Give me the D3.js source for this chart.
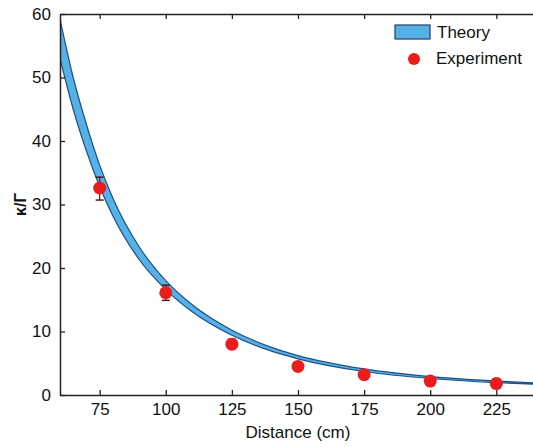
<!DOCTYPE html>
<html>
<head>
<meta charset="utf-8">
<script src="https://cdn.jsdelivr.net/npm/d3@7"></script>
<style>
  body { margin: 0; background: #fff; }
  text { font-family: "Liberation Sans", Arial, sans-serif; fill: #111; }
</style>
</head>
<body>
<div id="chart"></div>
<script>
// theory band (upper / lower edge)
var bandX     = [60, 65, 70, 75, 80, 90, 100, 110, 125, 140, 150, 175, 200, 225, 240];
var bandUpper = [59.2, 50.0, 42.6, 36.2, 31.0, 23.3, 18.0, 14.2, 10.2, 7.5, 6.2, 4.1, 2.9, 2.2, 1.9];
var bandLower = [53.0, 45.0, 38.4, 32.8, 28.2, 21.3, 16.6, 13.1, 9.4, 6.9, 5.7, 3.7, 2.6, 1.95, 1.7];

// experiment points with error bars
var expX   = [75, 100, 125, 150, 175, 200, 225];
var expY   = [32.6, 16.1, 8.0, 4.5, 3.2, 2.2, 1.8];
var expLo  = [30.7, 14.9, 7.3, 4.0, 2.7, 1.9, 1.4];
var expHi  = [34.3, 17.3, 8.8, 5.0, 3.8, 2.6, 2.5];

var xTicks = [75, 100, 125, 150, 175, 200, 225];
var yTicks = [0, 10, 20, 30, 40, 50, 60];

var margin = {left: 60, top: 14, right: -3, bottom: 52};
var width = 533 - margin.left - margin.right,
    height = 447 - margin.top - margin.bottom;

var svg = d3.select("#chart").append("svg")
    .attr("width", 533).attr("height", 447);
var g = svg.append("g")
    .attr("transform", "translate(" + margin.left + "," + margin.top + ")");

var x = d3.scaleLinear().domain([60, 240]).range([0, width]);
var y = d3.scaleLinear().domain([0, 60]).range([height, 0]);

svg.append("clipPath").attr("id", "clip")
    .append("rect").attr("width", width).attr("height", height);

var band = bandX.map(function (d, i) {
    return {x: d, lo: bandLower[i], hi: bandUpper[i]};
});

var area = d3.area()
    .x(function (d) { return x(d.x); })
    .y0(function (d) { return y(d.lo); })
    .y1(function (d) { return y(d.hi); })
    .curve(d3.curveMonotoneX);

var plot = g.append("g").attr("clip-path", "url(#clip)");

plot.append("path")
    .datum(band)
    .attr("d", area)
    .attr("fill", "#56b2e6")
    .attr("stroke", "#1d4f86")
    .attr("stroke-width", 1.2);

// error bars
var pts = expX.map(function (d, i) {
    return {x: d, y: expY[i], lo: expLo[i], hi: expHi[i]};
});

var eb = plot.selectAll(".eb").data(pts).enter().append("g").attr("class", "eb");
eb.append("line")
    .attr("x1", function (d) { return x(d.x); })
    .attr("x2", function (d) { return x(d.x); })
    .attr("y1", function (d) { return y(d.lo); })
    .attr("y2", function (d) { return y(d.hi); })
    .attr("stroke", "#7a1010").attr("stroke-width", 1.2);
eb.selectAll(".cap")
    .data(function (d) { return [{x: d.x, v: d.lo}, {x: d.x, v: d.hi}]; })
    .enter().append("line")
    .attr("x1", function (d) { return x(d.x) - 4; })
    .attr("x2", function (d) { return x(d.x) + 4; })
    .attr("y1", function (d) { return y(d.v); })
    .attr("y2", function (d) { return y(d.v); })
    .attr("stroke", "#4a0d0d").attr("stroke-width", 1.4);

plot.selectAll(".pt").data(pts).enter().append("circle")
    .attr("cx", function (d) { return x(d.x); })
    .attr("cy", function (d) { return y(d.y); })
    .attr("r", 6.5)
    .attr("fill", "#ec1c1c");

// axes
var xAxis = g.append("g")
    .attr("transform", "translate(0," + height + ")")
    .call(d3.axisBottom(x).tickValues(xTicks).tickSizeInner(-5).tickSizeOuter(0).tickPadding(8));
var xTop = g.append("g")
    .call(d3.axisTop(x).tickValues(xTicks).tickSizeInner(-5).tickSizeOuter(0).tickFormat(""));
var yAxis = g.append("g")
    .call(d3.axisLeft(y).tickValues(yTicks).tickSizeInner(-5).tickSizeOuter(0).tickPadding(9));

[xAxis, xTop, yAxis].forEach(function (a) {
    a.select(".domain").attr("stroke", "#222").attr("stroke-width", 1.5);
    a.selectAll(".tick line").attr("stroke", "#222").attr("stroke-width", 1.3);
    a.selectAll("text").style("font-size", "17px").attr("fill", "#111");
});

g.append("text")
    .attr("x", x(150)).attr("y", height + 43)
    .attr("text-anchor", "middle")
    .style("font-size", "17px")
    .style("font-weight", "500")
    .text("Distance (cm)");

g.append("text")
    .attr("transform", "translate(-34," + y(30) + ") rotate(-90)")
    .attr("text-anchor", "middle")
    .style("font-size", "16px")
    .style("font-weight", "bold")
    .text("κ/Γ");

// legend
var lg = svg.append("g").attr("transform", "translate(395,25)");
lg.append("rect")
    .attr("width", 35).attr("height", 14)
    .attr("fill", "#56b2e6").attr("stroke", "#1d3f6a").attr("stroke-width", 1.2);
lg.append("text").attr("x", 42).attr("y", 13).style("font-size", "17px").text("Theory");
lg.append("circle").attr("cx", 19).attr("cy", 34).attr("r", 6).attr("fill", "#ec1c1c");
lg.append("text").attr("x", 41).attr("y", 39).style("font-size", "17px").text("Experiment");
</script>
</body>
</html>
